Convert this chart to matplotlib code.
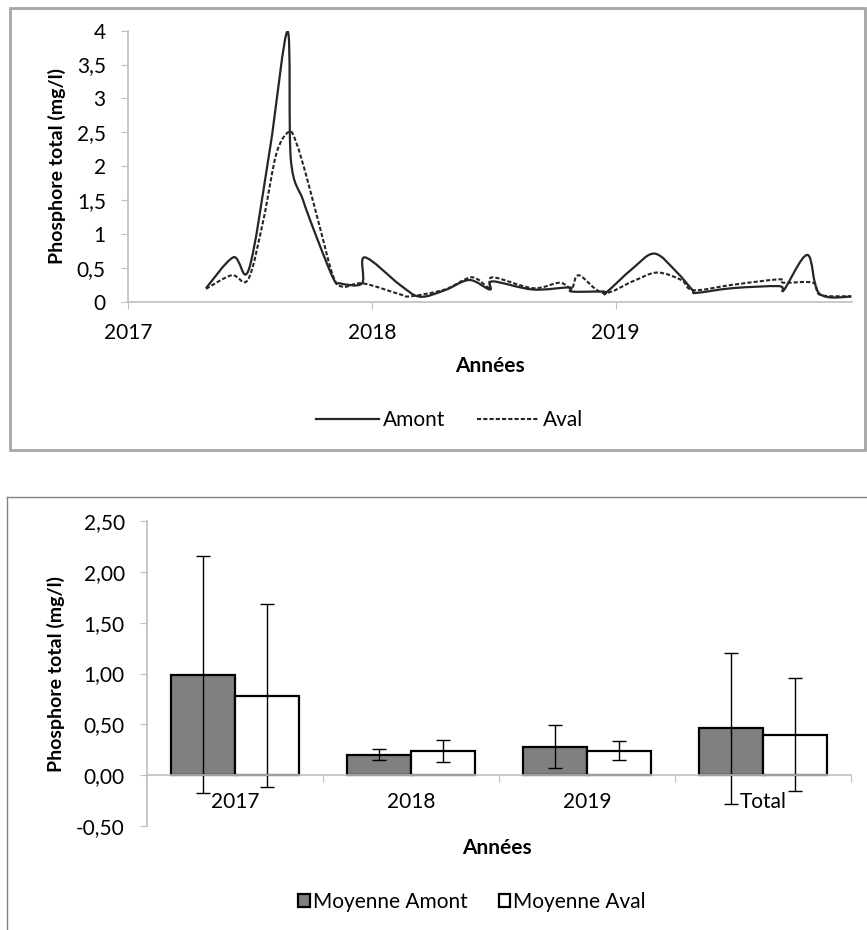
import numpy as np
import matplotlib
matplotlib.use("Agg")
import matplotlib.pyplot as plt
from matplotlib.patches import Rectangle, PathPatch
from matplotlib.path import Path
from matplotlib.lines import Line2D
from matplotlib.ticker import FuncFormatter

plt.rcParams['font.family'] = ['Lato', 'DejaVu Sans']

# --- top chart: time series (fractional years) ---
amont_t = [2017.32, 2017.432, 2017.496, 2017.582, 2017.655, 2017.668, 2017.718,
           2017.773, 2017.842, 2017.87, 2017.96, 2017.971, 2018.115, 2018.197, 2018.30,
           2018.40, 2018.484, 2018.496, 2018.66, 2018.81, 2018.82, 2018.95, 2018.96,
           2019.07, 2019.16, 2019.25, 2019.316, 2019.33, 2019.48, 2019.67, 2019.69,
           2019.787, 2019.836, 2019.967]
amont_v = [0.20, 0.655, 0.48, 2.25, 3.99, 2.1, 1.5,
           0.96, 0.345, 0.27, 0.27, 0.655, 0.25, 0.074, 0.17,
           0.32, 0.18, 0.30, 0.18, 0.21, 0.15, 0.15, 0.13,
           0.49, 0.71, 0.44, 0.17, 0.13, 0.20, 0.23, 0.17,
           0.69, 0.12, 0.074]

aval_t = [2017.32, 2017.425, 2017.493, 2017.555, 2017.609, 2017.661, 2017.691, 2017.732,
          2017.787, 2017.842, 2017.882, 2017.964, 2018.115, 2018.16, 2018.30, 2018.41,
          2018.48, 2018.497, 2018.66, 2018.77, 2018.82, 2018.85, 2018.95, 2019.07,
          2019.17, 2019.27, 2019.32, 2019.48, 2019.67, 2019.69, 2019.81, 2019.84,
          2019.967]
aval_v = [0.19, 0.39, 0.33, 1.2, 2.19, 2.51, 2.34, 1.85,
          1.1, 0.37, 0.22, 0.27, 0.11, 0.08, 0.18, 0.36,
          0.21, 0.36, 0.20, 0.28, 0.20, 0.39, 0.13, 0.30,
          0.43, 0.32, 0.17, 0.25, 0.33, 0.28, 0.28, 0.10,
          0.08]

# --- bottom chart: yearly means with std ---
categories = ['2017', '2018', '2019', 'Total']
moy_amont = [0.99, 0.20, 0.28, 0.46]
moy_aval = [0.78, 0.24, 0.24, 0.40]
err_amont = [1.17, 0.055, 0.21, 0.74]
err_aval = [0.90, 0.11, 0.095, 0.56]

W, H = 867, 930
fig = plt.figure(figsize=(W / 100, H / 100), dpi=100)


def fx(px):
    return px / W


def fy(py):
    return 1 - py / H


def smooth_path(xs, ys):
    # excel-like "smoothed line": cubic bezier through the points
    p = np.column_stack([xs, ys])
    verts = [p[0]]
    codes = [Path.MOVETO]
    n = len(p)
    for i in range(n - 1):
        p0 = p[i - 1] if i > 0 else p[i]
        p3 = p[i + 2] if i + 2 < n else p[i + 1]
        c1 = p[i] + (p[i + 1] - p0) / 6
        c2 = p[i + 1] - (p3 - p[i]) / 6
        verts += [c1, c2, p[i + 1]]
        codes += [Path.CURVE4] * 3
    return Path(verts, codes)


comma = FuncFormatter(lambda v, p: ('%g' % v).replace('.', ','))
comma2 = FuncFormatter(lambda v, p: ('%.2f' % v).replace('.', ','))
axis_col = '#bfbfbf'

# frames around the two charts
fig.patches.append(Rectangle((fx(10), fy(450)), fx(855), 442 / H, transform=fig.transFigure,
                             fill=False, edgecolor='#a6a6a6', lw=2))
fig.add_artist(Line2D([fx(7), 1], [fy(497), fy(497)], transform=fig.transFigure, color='#808080', lw=1))
fig.add_artist(Line2D([fx(7), fx(7)], [fy(497), 0], transform=fig.transFigure, color='#808080', lw=1))

# ---------- top ----------
ax1 = fig.add_axes([fx(128), fy(301.7), fx(724), 271 / H])
ax1.add_patch(PathPatch(smooth_path(amont_t, amont_v), fill=False, edgecolor='#262626', lw=1.6))
ax1.add_patch(PathPatch(smooth_path(aval_t, aval_v), fill=False, edgecolor='#262626', lw=1.5,
                        ls=(0, (2, 1))))
ax1.set_xlim(2017, 2019.97)
ax1.set_ylim(0, 4)
ax1.set_xticks([2017, 2018, 2019])
ax1.set_yticks(np.arange(0, 4.01, 0.5))
ax1.yaxis.set_major_formatter(comma)
for s in ['top', 'right']:
    ax1.spines[s].set_visible(False)
for s in ['left', 'bottom']:
    ax1.spines[s].set_color(axis_col)
    ax1.spines[s].set_linewidth(1.2)
ax1.tick_params(axis='y', length=5, color=axis_col, pad=11, labelsize=15)
ax1.tick_params(axis='x', length=5, color=axis_col, pad=10, labelsize=15)
ax1.set_xlabel('Années', fontsize=15, fontweight='bold', labelpad=10)
ax1.set_ylabel('Phosphore total (mg/l)', fontsize=14, fontweight='bold', labelpad=8)
handles = [Line2D([], [], color='#262626', lw=1.6),
           Line2D([], [], color='#262626', lw=1.5, ls=(0, (2, 1)))]
ax1.legend(handles, ['Amont', 'Aval'], loc='center', bbox_to_anchor=(fx(450), fy(420)),
           bbox_transform=fig.transFigure, ncol=2, frameon=False, fontsize=15,
           handlelength=3, handletextpad=0.2, columnspacing=1.5)

# ---------- bottom ----------
ax2 = fig.add_axes([fx(147), fy(826), fx(704), 305 / H])
x = np.arange(len(categories))
bw = 0.365
ekw = dict(elinewidth=1, ecolor='black', capthick=1)
ax2.bar(x - bw / 2, moy_amont, bw, color='#808080', edgecolor='black', lw=1.6,
        yerr=err_amont, capsize=5, error_kw=ekw, label='Moyenne Amont')
ax2.bar(x + bw / 2, moy_aval, bw, color='white', edgecolor='black', lw=1.6,
        yerr=err_aval, capsize=5, error_kw=ekw, label='Moyenne Aval')
ax2.set_xlim(-0.5, 3.5)
ax2.set_ylim(-0.5, 2.5)
ax2.set_yticks(np.arange(-0.5, 2.51, 0.5))
ax2.yaxis.set_major_formatter(comma2)
ax2.set_xticks([0.5, 1.5, 2.5, 3.5])
ax2.set_xticklabels([])
ax2.set_xticks(x, minor=True)
ax2.set_xticklabels(categories, minor=True)
ax2.spines['bottom'].set_position(('data', 0))
for s in ['top', 'right']:
    ax2.spines[s].set_visible(False)
for s in ['left', 'bottom']:
    ax2.spines[s].set_color(axis_col)
    ax2.spines[s].set_linewidth(1.2)
ax2.tick_params(axis='y', length=5, color=axis_col, pad=11, labelsize=15)
ax2.tick_params(axis='x', which='major', length=5, color=axis_col)
ax2.tick_params(axis='x', which='minor', length=0, pad=12, labelsize=15)
ax2.set_ylabel('Phosphore total (mg/l)', fontsize=14, fontweight='bold', labelpad=8)
fig.text(fx(497), fy(848), 'Années', fontsize=15, fontweight='bold', ha='center', va='center')
ax2.legend(loc='center', bbox_to_anchor=(fx(472), fy(902)), bbox_transform=fig.transFigure,
           ncol=2, frameon=False, fontsize=15, handlelength=0.55, handleheight=0.55,
           handletextpad=0.15, columnspacing=1.5)

fig.savefig('out.png', dpi=100)
